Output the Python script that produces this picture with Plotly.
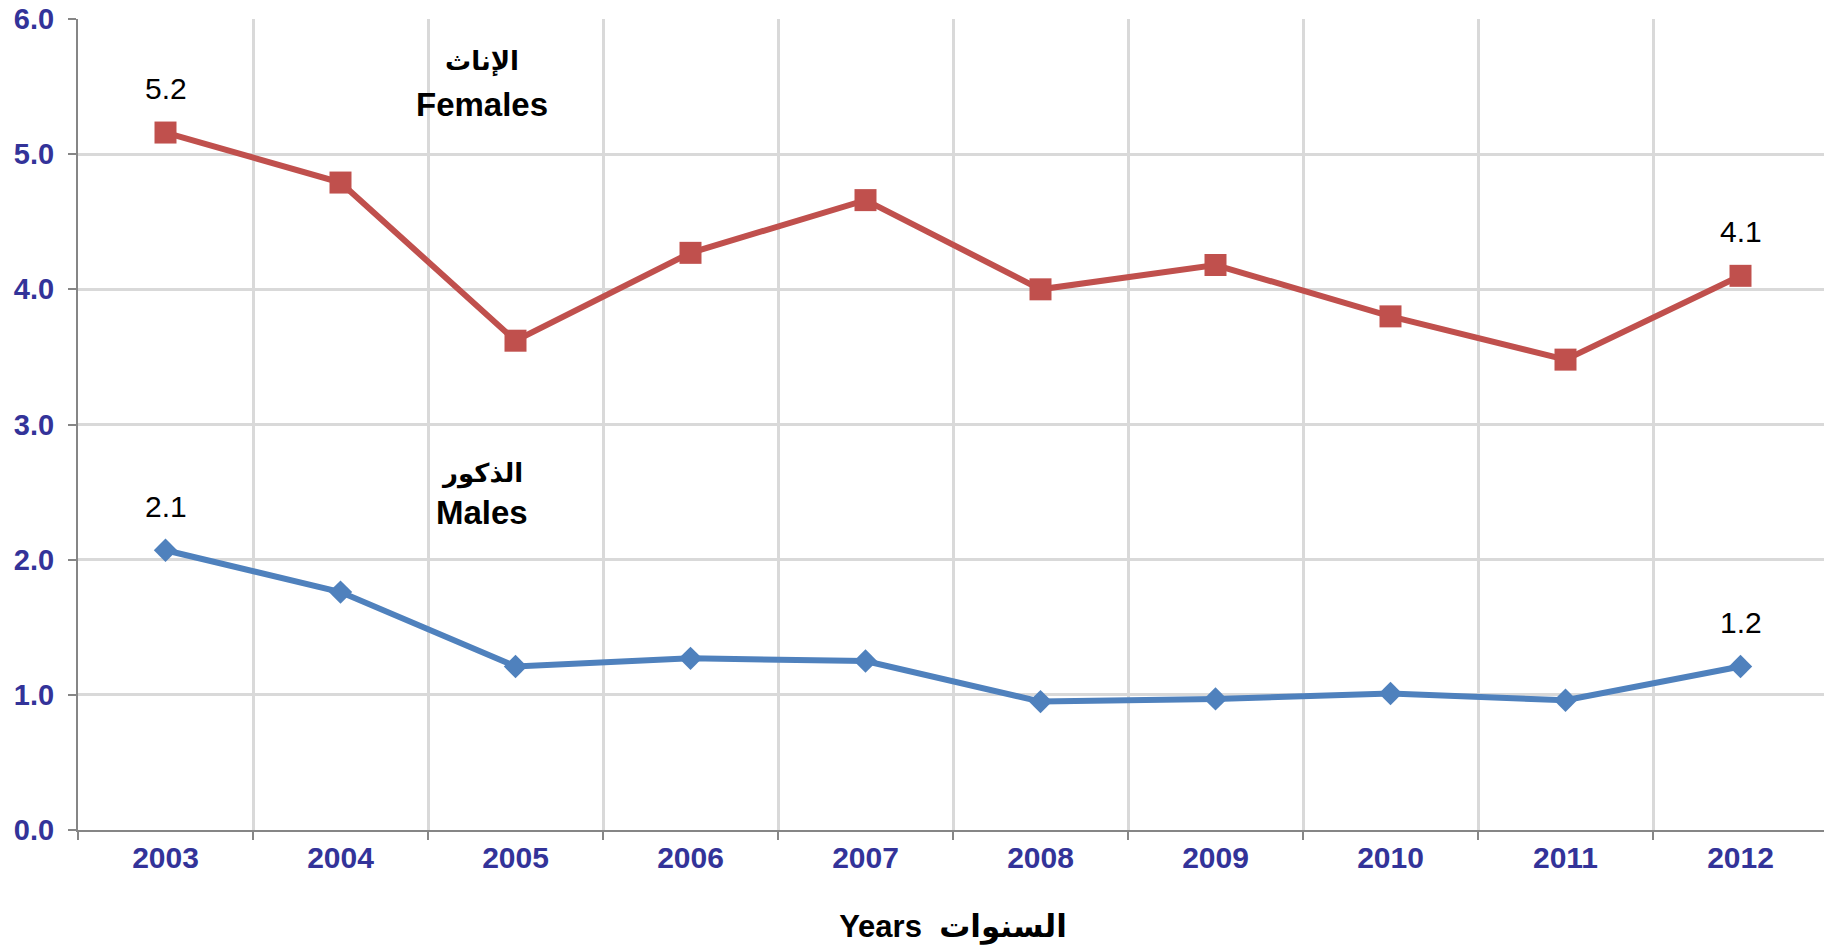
import plotly.graph_objects as go

years = ["2003", "2004", "2005", "2006", "2007", "2008", "2009", "2010", "2011", "2012"]
females = [5.16, 4.79, 3.62, 4.27, 4.66, 4.00, 4.18, 3.80, 3.48, 4.10]
males = [2.07, 1.76, 1.21, 1.27, 1.25, 0.95, 0.97, 1.01, 0.96, 1.21]
y_ticks = [0, 1, 2, 3, 4, 5, 6]

FONT = "Liberation Sans, Arial, DejaVu Sans, sans-serif"
TICK_COLOR = "#333399"
RED = "#C0504D"
BLUE = "#4F81BD"

fig = go.Figure()
fig.add_trace(go.Scatter(
    x=years, y=females, mode="lines+markers", name="Females",
    line=dict(color=RED, width=6),
    marker=dict(symbol="square", size=22, color=RED),
))
fig.add_trace(go.Scatter(
    x=years, y=males, mode="lines+markers", name="Males",
    line=dict(color=BLUE, width=6),
    marker=dict(symbol="diamond", size=18, color=BLUE),
))

# value labels on the first and last points only (category index for x)
annotations = []
for series in (females, males):
    for i in (0, len(years) - 1):
        annotations.append(dict(
            x=i, y=series[i], xref="x", yref="y",
            text=f"{series[i]:.1f}", showarrow=False, yshift=44,
            font=dict(family=FONT, size=30, color="#000000"),
        ))

# series names
for text, y, size in [("<b>الإناث</b>", 0.948, 26), ("<b>Females</b>", 0.895, 33),
                      ("<b>الذكور</b>", 0.439, 26), ("<b>Males</b>", 0.391, 33)]:
    annotations.append(dict(
        x=0.231, y=y, xref="paper", yref="paper", text=text, showarrow=False,
        xanchor="center", yanchor="middle",
        font=dict(family=FONT, size=size, color="#000000"),
    ))

# the page body adds an 8px offset, margins compensate for it
fig.update_layout(
    width=1832, height=945,
    margin=dict(l=70, r=12, t=11, b=123),
    plot_bgcolor="white", paper_bgcolor="white",
    showlegend=False,
    font=dict(family=FONT),
    annotations=annotations,
    xaxis=dict(
        type="category", range=[-0.5, len(years) - 0.5], automargin=False,
        tickson="boundaries", tickangle=0,
        showgrid=True, gridcolor="#D9D9D9", gridwidth=3,
        showline=True, linecolor="#868686", linewidth=2,
        ticks="outside", ticklen=8, tickcolor="#868686", tickwidth=2,
        tickfont=dict(family=FONT, size=30, color=TICK_COLOR, weight="bold"),
        title=dict(text="<b>Years  السنوات</b>", standoff=42,
                   font=dict(family=FONT, size=31, color="#000000")),
    ),
    yaxis=dict(
        range=[0, 6], tickvals=y_ticks, tickformat=".1f", automargin=False,
        ticklabeloverflow="allow",
        showgrid=True, gridcolor="#D9D9D9", gridwidth=3, zeroline=False,
        showline=True, linecolor="#868686", linewidth=2,
        ticks="outside", ticklen=8, tickcolor="#868686", tickwidth=2,
        tickfont=dict(family=FONT, size=29, color=TICK_COLOR, weight="bold"),
        ticklabelstandoff=8,
    ),
)

fig.write_html("out.html")
